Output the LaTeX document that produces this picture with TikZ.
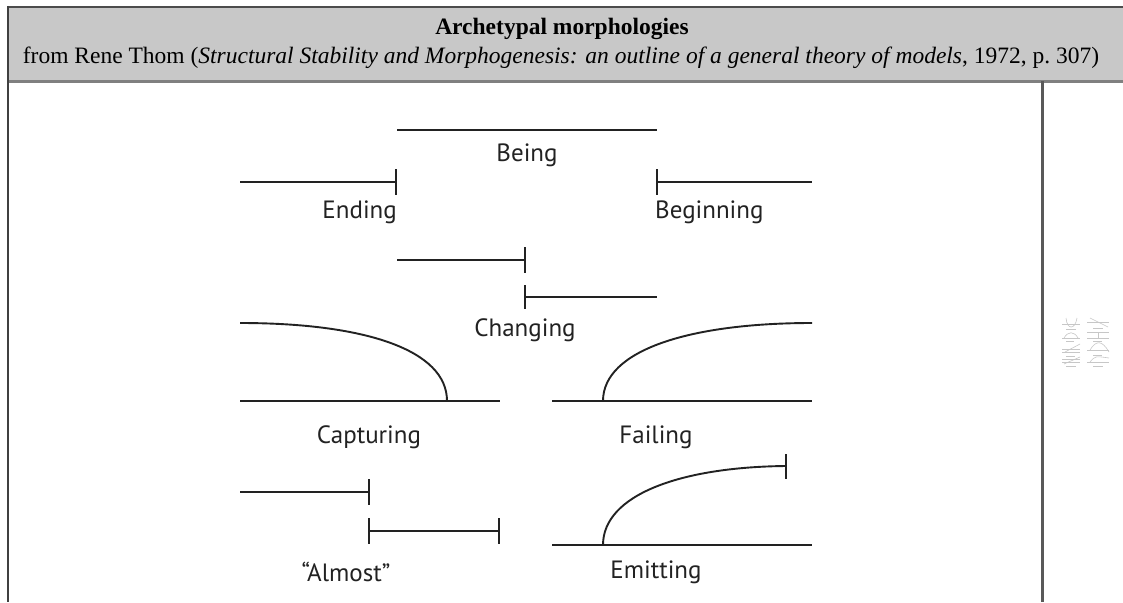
\documentclass[tikz,border=0pt]{standalone}
\usepackage{fontspec}
\setmainfont{Liberation Serif}
\newfontfamily\labelfont{PT Sans}
\definecolor{hdr}{HTML}{C8C8C8}
\definecolor{ink}{HTML}{222222}
\begin{document}
\begin{tikzpicture}[x=1pt,y=-1pt,
  ln/.style={line width=1.9pt, draw=ink},
  thick ln/.style={line width=2.6pt, draw=ink},
  lab/.style={font=\labelfont\fontsize{25}{28}\selectfont, text=ink, inner sep=0pt},
  thumb/.style={draw=black!22, line width=0.6pt},
  border/.style={draw=black!75, line width=2.5pt}]
\useasboundingbox (0,0) rectangle (1123,602);
\fill[white] (0,0) rectangle (1123,602);
% header
\fill[hdr] (7,7) rectangle (1123,81);
\draw[draw=black!70, line width=2pt] (7,7) -- (1123,7);
\draw[draw=black!50, line width=3pt] (7,81) -- (1123,81);
\draw[border] (8,6) -- (8,602);
\draw[draw=black!65, line width=3pt] (1042,81) -- (1042,602);
\node[font=\bfseries\fontsize{23.5}{28}\selectfont, inner sep=0pt] (title) at (562,29) {Archetypal morphologies};
\node[font=\fontsize{23.5}{28}\selectfont, inner sep=0pt] (sub) at (561,58) {from Rene Thom (\textit{Structural Stability and Morphogenesis: an outline of a general theory of models}, 1972, p.~307)};

% Being
\coordinate (beA) at (397,130); \coordinate (beB) at (657,130);
\draw[ln] (beA) -- (beB);
\node[lab] (being) at (527,155) {Being};
% Ending
\coordinate (enA) at (240,182); \coordinate (enB) at (396,182);
\coordinate (enT1) at (396,169); \coordinate (enT2) at (396,195);
\draw[ln] (enA) -- (enB); \draw[ln] (enT1) -- (enT2);
\node[lab, anchor=east] (ending) at (397,212) {Ending};
% Beginning
\coordinate (bgA) at (657,182); \coordinate (bgB) at (812,182);
\coordinate (bgT1) at (657,169); \coordinate (bgT2) at (657,195);
\draw[ln] (bgA) -- (bgB); \draw[ln] (bgT1) -- (bgT2);
\node[lab, anchor=west] (beginning) at (655,212) {Beginning};
% Changing
\coordinate (chA) at (397,260); \coordinate (chB) at (525,260);
\coordinate (chT1) at (525,247); \coordinate (chT2) at (525,273);
\coordinate (chC) at (525,297); \coordinate (chD) at (657,297);
\coordinate (chT3) at (525,285); \coordinate (chT4) at (525,309);
\draw[ln] (chA) -- (chB); \draw[ln] (chT1) -- (chT2);
\draw[ln] (chC) -- (chD); \draw[ln] (chT3) -- (chT4);
\node[lab] (changing) at (525,330) {Changing};
% Capturing
\coordinate (caA) at (240,323); \coordinate (caB) at (447,401);
\coordinate (caL) at (240,401); \coordinate (caR) at (500,401);
\draw[ln] (caA) .. controls (365,323) and (447,350) .. (caB);
\draw[ln] (caL) -- (caR);
\node[lab] (capturing) at (369,437) {Capturing};
% Failing
\coordinate (faA) at (603,401); \coordinate (faB) at (812,323);
\coordinate (faL) at (552,401); \coordinate (faR) at (812,401);
\draw[ln] (faA) .. controls (603,350) and (690,323) .. (faB);
\draw[ln] (faL) -- (faR);
\node[lab] (failing) at (656,437) {Failing};
% Almost
\coordinate (alA) at (240,492); \coordinate (alB) at (369,492);
\coordinate (alT1) at (369,479); \coordinate (alT2) at (369,505);
\coordinate (alC) at (369,531); \coordinate (alD) at (499,531);
\coordinate (alT3) at (369,518); \coordinate (alT4) at (369,544);
\coordinate (alT5) at (499,518); \coordinate (alT6) at (499,544);
\draw[thick ln] (alA) -- (alB); \draw[ln] (alT1) -- (alT2);
\draw[thick ln] (alC) -- (alD); \draw[ln] (alT3) -- (alT4); \draw[ln] (alT5) -- (alT6);
\node[lab] (almost) at (346,572) {“Almost”};
% Emitting
\coordinate (emA) at (603,545); \coordinate (emB) at (786,466);
\coordinate (emT1) at (786,454); \coordinate (emT2) at (786,479);
\coordinate (emL) at (552,545); \coordinate (emR) at (812,545);
\draw[ln] (emA) .. controls (603,495) and (680,467) .. (emB);
\draw[ln] (emT1) -- (emT2);
\draw[ln] (emL) -- (emR);
\node[lab] (emitting) at (656,572) {Emitting};

% thumbnail
\draw[thumb] (1062,324) -- (1080,324);
\draw[thumb] (1066,318) .. controls (1067,330) and (1075,330) .. (1077,318);
\draw[thumb] (1066,329) -- (1076,329);
\draw[thumb] (1087,322) -- (1109,322);
\draw[thumb] (1090,318) .. controls (1098,322) .. (1108,327);
\draw[thumb] (1093,328) -- (1103,328);
\draw[thumb] (1062,338) -- (1080,338);
\draw[thumb] (1064,338) .. controls (1068,331) and (1074,331) .. (1078,338);
\draw[thumb] (1066,341) -- (1074,341);
\draw[thumb] (1087,332) -- (1109,332);
\draw[thumb] (1087,338) -- (1109,338);
\draw[thumb] (1098,332) -- (1098,338);
\draw[thumb] (1093,341) -- (1102,341);
\draw[thumb] (1062,349) -- (1080,349);
\draw[thumb] (1062,352) -- (1080,352);
\draw[thumb] (1065,352) -- (1080,344);
\draw[thumb] (1066,356) -- (1075,356);
\draw[thumb] (1087,350) -- (1109,350);
\draw[thumb] (1090,350) .. controls (1096,340) and (1102,340) .. (1109,352);
\draw[thumb] (1093,355) -- (1102,355);
\draw[thumb] (1062,359) -- (1080,359);
\draw[thumb] (1062,362) -- (1080,362);
\draw[thumb] (1064,364) -- (1080,357);
\draw[thumb] (1066,366) -- (1076,366);
\draw[thumb] (1087,362) -- (1109,362);
\draw[thumb] (1090,362) .. controls (1095,356) .. (1109,358);
\draw[thumb] (1093,366) -- (1103,366);
\end{tikzpicture}
\end{document}
